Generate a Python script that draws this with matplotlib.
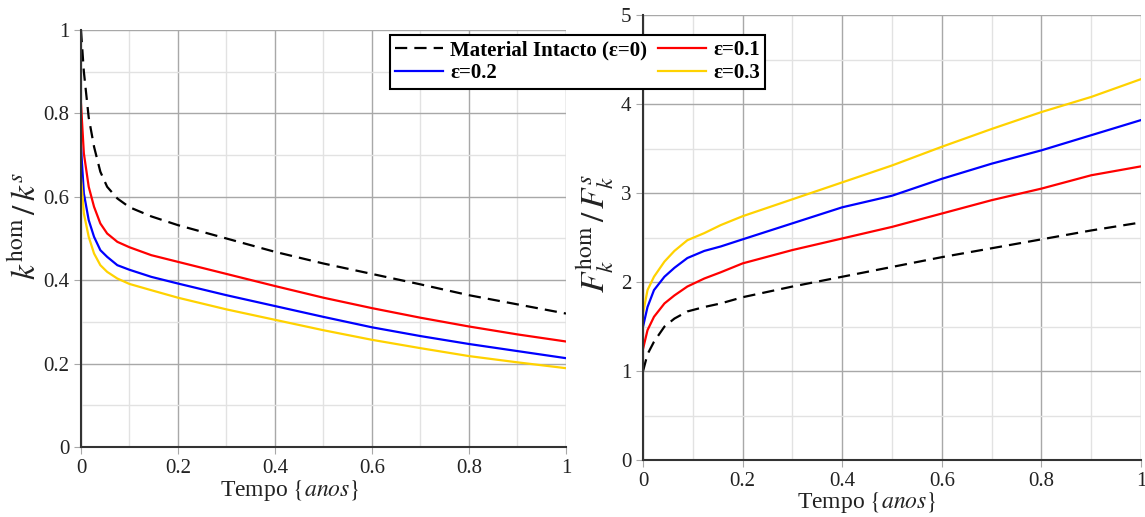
import matplotlib
matplotlib.use('Agg')
import matplotlib.pyplot as plt
from matplotlib.ticker import MultipleLocator

plt.rcParams['font.family'] = ['Liberation Serif', 'DejaVu Serif']
plt.rcParams['mathtext.fontset'] = 'stix'

# tempo (anos) - left panel
t_k = [0, 0.006, 0.016, 0.027, 0.04, 0.054, 0.075, 0.1, 0.145, 0.2,
       0.3, 0.4, 0.5, 0.6, 0.7, 0.8, 0.9, 1.0]

# k_hom / k_s
k_e0 = [1.0, 0.90, 0.79, 0.72, 0.66, 0.624, 0.596, 0.575, 0.553, 0.532,
        0.50, 0.468, 0.44, 0.415, 0.39, 0.364, 0.342, 0.32]
k_e1 = [0.824, 0.704, 0.624, 0.576, 0.536, 0.512, 0.492, 0.479, 0.46, 0.444,
        0.415, 0.386, 0.358, 0.333, 0.31, 0.289, 0.27, 0.253]
k_e2 = [0.72, 0.608, 0.544, 0.504, 0.472, 0.456, 0.436, 0.425, 0.408, 0.392,
        0.364, 0.338, 0.312, 0.287, 0.266, 0.247, 0.23, 0.213]
k_e3 = [0.648, 0.56, 0.504, 0.464, 0.436, 0.42, 0.404, 0.391, 0.376, 0.358,
        0.33, 0.305, 0.28, 0.257, 0.237, 0.218, 0.203, 0.189]

# tempo (anos) - right panel
t_f = [0, 0.009, 0.022, 0.043, 0.063, 0.089, 0.123, 0.156, 0.2,
       0.3, 0.4, 0.5, 0.6, 0.7, 0.8, 0.9, 1.0]

# F_hom / F_s
f_e0 = [1.0, 1.19, 1.33, 1.5, 1.59, 1.67, 1.72, 1.76, 1.83,
        1.95, 2.06, 2.17, 2.28, 2.38, 2.48, 2.58, 2.67]
f_e1 = [1.25, 1.46, 1.61, 1.76, 1.85, 1.95, 2.04, 2.11, 2.21,
        2.36, 2.49, 2.62, 2.77, 2.92, 3.05, 3.2, 3.30]
f_e2 = [1.5, 1.72, 1.91, 2.06, 2.16, 2.27, 2.35, 2.4, 2.48,
        2.66, 2.84, 2.97, 3.16, 3.33, 3.48, 3.65, 3.82]
f_e3 = [1.65, 1.91, 2.06, 2.23, 2.35, 2.47, 2.55, 2.64, 2.74,
        2.93, 3.12, 3.31, 3.52, 3.72, 3.91, 4.08, 4.28]

labels = ['Material Intacto (ε=0)', 'ε=0.1', 'ε=0.2', 'ε=0.3']
colors = ['black', '#ff0000', '#0000ff', '#ffd200']
styles = [(0, (5.5, 3.2)), '-', '-', '-']

fig = plt.figure(figsize=(11.45, 5.17), dpi=100)
ax1 = fig.add_axes([0.0707, 0.1354, 0.4236, 0.8066])
ax2 = fig.add_axes([0.5616, 0.110, 0.435, 0.861])


def style_axes(ax, ymax, ymajor, yminor, xlab_x, xlab_y):
    ax.set_xlim(0, 1)
    ax.set_ylim(0, ymax)
    ax.xaxis.set_major_locator(MultipleLocator(0.2))
    ax.xaxis.set_minor_locator(MultipleLocator(0.1))
    ax.yaxis.set_major_locator(MultipleLocator(ymajor))
    ax.yaxis.set_minor_locator(MultipleLocator(yminor))
    ax.grid(which='major', color='#a8a8a8', lw=1.0)
    ax.grid(which='minor', color='#e2e2e2', lw=1.0)
    ax.set_axisbelow(True)
    for s in ['top', 'right']:
        ax.spines[s].set_visible(False)
    for s in ['left', 'bottom']:
        ax.spines[s].set_color('#333333')
        ax.spines[s].set_linewidth(1.5)
    ax.tick_params(which='major', length=5, color='#a8a8a8', labelsize=15,
                   labelcolor='#222222')
    ax.tick_params(which='minor', length=0)
    fmt = plt.FuncFormatter(lambda v, p: '%g' % round(v, 2))
    ax.xaxis.set_major_formatter(fmt)
    ax.yaxis.set_major_formatter(fmt)
    ax.set_xlabel(r'Tempo $\{\mathit{anos}\}$', fontsize=17, color='#222222')
    ax.xaxis.set_label_coords(xlab_x, xlab_y)


handles = []
for ys, lab, c, ls in zip([k_e0, k_e1, k_e2, k_e3], labels, colors, styles):
    h, = ax1.plot(t_k, ys, color=c, ls=ls, lw=1.6, label=lab)
    handles.append(h)
for ys, c, ls in zip([f_e0, f_e1, f_e2, f_e3], colors, styles):
    ax2.plot(t_f, ys, color=c, ls=ls, lw=1.6)

style_axes(ax1, 1.0, 0.2, 0.1, 0.43, -0.075)
style_axes(ax2, 5.0, 1.0, 0.5, 0.45, -0.068)
ax1.set_ylabel(r'$k^{\mathrm{hom}}\,/\,k^{s}$', fontsize=24, color='#222222')
ax2.set_ylabel(r'$F_k^{\mathrm{hom}}\,/\,F_k^{s}$', fontsize=24, color='#222222')
ax1.yaxis.set_label_coords(-0.078, 0.53)
ax2.yaxis.set_label_coords(-0.055, 0.51)

order = [handles[0], handles[2], handles[1], handles[3]]
leg = fig.legend(order, [h.get_label() for h in order], ncol=2,
                 loc='upper left', bbox_to_anchor=(0.3406, 0.932),
                 prop={'weight': 'bold', 'size': 15}, frameon=True,
                 fancybox=False, edgecolor='black', framealpha=1,
                 handlelength=2.3, handletextpad=0.35, columnspacing=0.5,
                 borderpad=0.25, labelspacing=0.15, borderaxespad=0)
leg.get_frame().set_linewidth(1.5)
leg.set_zorder(10)

plt.savefig('out.png', dpi=100)
